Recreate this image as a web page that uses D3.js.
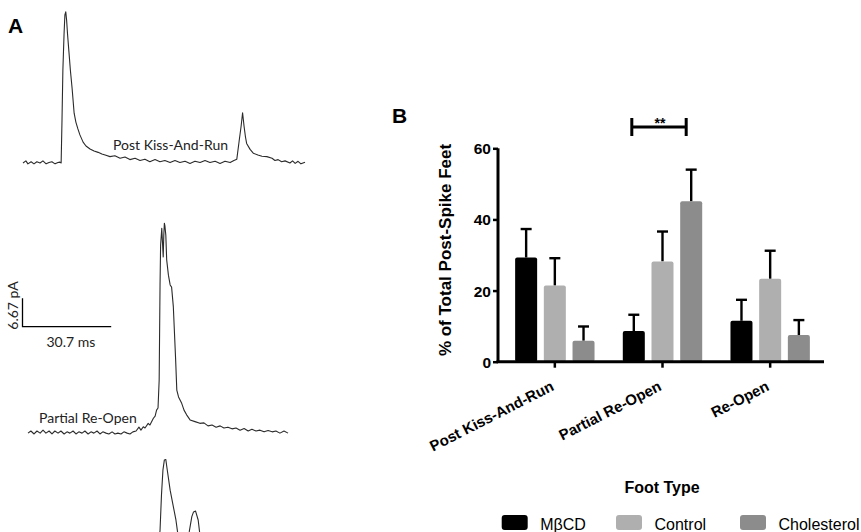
<!DOCTYPE html>
<html>
<head>
<meta charset="utf-8">
<script src="https://cdn.jsdelivr.net/npm/d3@7"></script>
<style>
  body { margin: 0; background: #fff; }
  svg { display: block; }
  .trace { fill: none; stroke: #2b2b2b; stroke-width: 1.1; stroke-linejoin: round; }
  .trace-label { font-family: Lato, "Open Sans", sans-serif; font-size: 14px; fill: #222; }
  .panel { font-family: "Liberation Sans", Arial, sans-serif; font-weight: bold; font-size: 21px; }
  .bold { font-family: "Liberation Sans", Arial, sans-serif; font-weight: bold; }
  .legend-text { font-family: "Liberation Sans", Arial, sans-serif; font-size: 16px; }
</style>
</head>
<body>
<svg width="861" height="532"></svg>
<script>
//  panel B data: % of total post-spike feet, mean and SEM
var categories = ["Post Kiss-And-Run", "Partial Re-Open", "Re-Open"];
var series = ["MβCD", "Control", "Cholesterol"];
var meanMBCD = [29.3, 8.6, 11.5];
var meanControl = [21.4, 28.2, 23.3];
var meanChol = [5.9, 45.1, 7.5];
var semMBCD = [8.0, 4.6, 5.9];
var semControl = [7.7, 8.4, 7.9];
var semChol = [4.0, 8.9, 4.2];
var yTicks = [0, 20, 40, 60];
var colors = ["#000000", "#afafaf", "#8c8c8c"];

//  panel A traces: [time ms, current pA]
var traceKissRun = [[0,0],[1.0,0.5],[1.7,-0.2],[2.8,0.3],[3.8,-0.2],[4.8,0.3],[5.9,0],[6.9,0.5],[8.0,-0.2],[9.0,0.1],[10.0,0.3],[11.1,-0.2],[12.1,0.1],[12.8,0.2],
  [13.2,0],[13.5,10.1],[13.8,21.8],[14.2,30.1],[14.5,34.8],[14.8,35.5],[15.1,33.5],[15.4,30.4],[15.9,26.1],[16.4,21.8],[17.0,17.5],[17.7,11.7],[18.3,9.6],[19.0,8.0],[19.7,6.6],
  [20.8,4.9],[21.8,4.0],[23.2,3.3],[24.6,2.8],[26.0,2.5],[27.3,2.1],[28.7,1.8],[30.1,1.5],[31.8,1.7],[33.6,1.1],[35.3,1.4],[37.0,0.8],[38.8,1.1],[40.5,0.6],[42.2,0.9],
  [43.9,0.3],[45.7,0.8],[47.4,0.3],[49.1,0.6],[50.9,0.1],[52.6,0.6],[54.3,0.1],[56.1,0.4],[57.8,-0.1],[59.5,0.4],[61.3,0.1],[63.0,0.6],[64.7,0.1],[66.5,0.4],[68.2,-0.1],
  [69.9,0.4],[71.7,0.1],[73.0,0.6],[74.0,0.9],[74.8,5.1],[75.5,8.7],[76.0,11.8],[76.5,8.7],[77.0,6.1],[77.4,4.6],[78.6,3.2],[79.7,2.3],[81.3,1.9],[82.7,1.6],[84.4,1.5],
  [86.2,1.1],[87.2,0.6],[88.3,0.8],[89.5,0.3],[90.7,0.5],[92.4,0],[93.3,0.5],[94.2,-0.1],[95.2,0.4],[96.2,-0.2],[97.6,0.2]];

var tracePartial = [[0,-0.1],[1.0,0.4],[2.1,-0.3],[3.1,0.4],[4.2,-0.1],[5.2,0.6],[6.2,-0.1],[7.3,0.4],[8.3,-0.3],[9.3,0.4],[10.4,-0.1],[11.4,0.4],[12.5,-0.3],[13.5,0.2],
  [14.5,-0.1],[15.6,0.4],[16.6,-0.3],[17.6,0.2],[18.7,-0.1],[19.7,0.4],[20.8,-0.3],[21.8,0.2],[22.8,-0.1],[23.9,0.4],[24.9,-0.3],[25.9,0.2],[27.0,-0.1],[28.0,-0.3],[29.1,0.2],
  [30.1,-0.3],[31.1,-0.1],[32.2,-0.3],[33.2,0.2],[34.3,-0.1],[35.3,-0.3],[36.3,0.2],[37.4,0.4],[38.4,1.3],[39.1,0.6],[39.9,1.4],[40.5,1.1],[41.6,2.2],[42.2,1.8],[43.4,3.4],
  [44.0,3.9],[44.5,5.3],[45.0,5.8],[45.4,12.4],[45.7,34.7],[45.9,44.1],[46.3,48.0],[46.5,45.3],[46.8,41.3],[47.0,46.4],[47.2,49.2],[47.4,48.5],[47.7,46.4],[48.0,40.6],
  [48.6,37.0],[49.2,34.7],[49.7,34.2],[50.3,29.6],[51.1,17.1],[51.5,10.0],[52.1,8.4],[53.2,6.9],[54.0,5.3],[54.9,4.2],[56.1,3.0],[57.8,2.6],[59.5,2.2],[60.9,2.3],[62.3,1.6],
  [63.7,1.8],[65.1,1.3],[66.5,1.6],[67.8,1.1],[69.2,1.3],[70.6,0.9],[72.0,1.1],[73.4,0.6],[74.8,1.0],[76.2,0.4],[77.5,0.8],[78.9,0.4],[80.3,0.6],[81.7,0.2],[83.1,0.5],
  [84.5,0.2],[85.8,0.4],[87.2,-0.1],[88.6,0.4],[90.0,-0.1]];

var traceReOpen = [[42.2,0.5],[44.0,1.2],[45.2,2.8],[45.7,7.0],[46.2,15.3],[46.7,21.1],[47.2,23.5],[47.7,23.6],[48.1,21.6],[49.2,16.4],[50.2,12.9],[51.2,9.4],[51.9,5.9],
  [53.0,3.5],[54.3,4.7],[55.8,6.6],[56.7,10.2],[57.3,11.3],[58.0,11.5],[58.9,9.4],[59.5,5.9],[61.3,2.8]];

var svg = d3.select("svg");

//  ---------- panel A ----------
var tScale = d3.scaleLinear().domain([0, 30.7]).range([0, 88.7]);
var iScale = d3.scaleLinear().domain([0, 6.67]).range([0, -28.4]);
var traceLine = d3.line()
  .x(function(d) { return tScale(d[0]); })
  .y(function(d) { return iScale(d[1]); });

svg.append("text").attr("class", "panel").attr("x", 8).attr("y", 33).text("A");

var traces = [
  { data: traceKissRun, x: 23, y: 163 },
  { data: tracePartial, x: 28, y: 432.7 },
  { data: traceReOpen, x: 28, y: 560 }
];
traces.forEach(function(t) {
  svg.append("g")
    .attr("transform", "translate(" + t.x + "," + t.y + ")")
    .append("path")
    .attr("class", "trace")
    .attr("d", traceLine(t.data));
});

svg.append("text").attr("class", "trace-label").attr("x", 113).attr("y", 150).text("Post Kiss-And-Run");
svg.append("text").attr("class", "trace-label").attr("x", 39).attr("y", 422.7).text("Partial Re-Open");

//  scale bar
var sb = svg.append("g").attr("transform", "translate(22.5,326.7)");
sb.append("path")
  .attr("d", "M0," + iScale(6.67) + "V0H" + tScale(30.7))
  .attr("fill", "none").attr("stroke", "#000").attr("stroke-width", 1.3);
sb.append("text").attr("class", "trace-label")
  .attr("transform", "translate(-4.5," + (iScale(6.67) / 2 - 7) + ") rotate(-90)")
  .attr("text-anchor", "middle").text("6.67 pA");
sb.append("text").attr("class", "trace-label")
  .attr("x", tScale(30.7) / 2 + 4).attr("y", 20)
  .attr("text-anchor", "middle").text("30.7 ms");

//  ---------- panel B ----------
svg.append("text").attr("class", "panel").attr("x", 392).attr("y", 123.3).text("B");

var plotLeft = 498, plotRight = 824, plotBottom = 361.7, plotTop = 148.3;
var y = d3.scaleLinear().domain([0, 60]).range([plotBottom, plotTop]);
var x0 = d3.scaleBand().domain(categories).range([plotLeft + 3, plotRight]);
var x1 = d3.scaleBand().domain(series).range([-39.7, 39.7]).paddingInner(0.233);

var means = [meanMBCD, meanControl, meanChol];
var sems = [semMBCD, semControl, semChol];
var bars = [];
categories.forEach(function(c, ci) {
  series.forEach(function(s, si) {
    bars.push({ cat: c, ser: s, si: si, mean: means[si][ci], sem: sems[si][ci] });
  });
});
function cx(d) { return x0(d.cat) + x0.bandwidth() / 2; }

var gB = svg.append("g");

//  error bars (drawn first so bars cover the lower half)
var err = gB.selectAll(".err").data(bars).enter().append("g").attr("class", "err");
err.append("line")
  .attr("x1", function(d) { return cx(d) + x1(d.ser) + x1.bandwidth() / 2; })
  .attr("x2", function(d) { return cx(d) + x1(d.ser) + x1.bandwidth() / 2; })
  .attr("y1", function(d) { return y(d.mean); })
  .attr("y2", function(d) { return y(d.mean + d.sem); })
  .attr("stroke", "#000").attr("stroke-width", 2.4);
err.append("line")
  .attr("x1", function(d) { return cx(d) + x1(d.ser) + x1.bandwidth() / 2 - 5.5; })
  .attr("x2", function(d) { return cx(d) + x1(d.ser) + x1.bandwidth() / 2 + 5.5; })
  .attr("y1", function(d) { return y(d.mean + d.sem); })
  .attr("y2", function(d) { return y(d.mean + d.sem); })
  .attr("stroke", "#000").attr("stroke-width", 2.4);

gB.selectAll(".bar").data(bars).enter().append("rect")
  .attr("class", "bar")
  .attr("x", function(d) { return cx(d) + x1(d.ser); })
  .attr("y", function(d) { return y(d.mean); })
  .attr("width", x1.bandwidth())
  .attr("height", function(d) { return plotBottom - y(d.mean); })
  .attr("rx", 2)
  .attr("fill", function(d) { return colors[d.si]; });

//  axes
var yAxis = gB.append("g").attr("transform", "translate(" + plotLeft + ",0)")
  .call(d3.axisLeft(y).tickValues(yTicks).tickSize(5).tickPadding(2).tickFormat(d3.format("d")));
yAxis.select(".domain").attr("d", "M0," + plotTop + "V" + plotBottom).attr("stroke-width", 3);
yAxis.selectAll(".tick line").attr("stroke-width", 2.5);
yAxis.selectAll("text").attr("class", "bold").attr("font-size", 15.5).attr("fill", "#000").attr("dy", "0.35em");

var xAxis = gB.append("g").attr("transform", "translate(0," + plotBottom + ")")
  .call(d3.axisBottom(x0).tickSize(6).tickFormat(""));
xAxis.select(".domain").attr("d", "M" + (plotLeft - 1.5) + ",0H" + plotRight).attr("stroke-width", 3);
xAxis.selectAll(".tick line").attr("stroke-width", 2.5);

gB.selectAll(".xlab").data(categories).enter().append("text")
  .attr("class", "bold")
  .attr("font-size", 15)
  .attr("text-anchor", "end")
  .attr("transform", function(d) {
    return "translate(" + (x0(d) + x0.bandwidth() / 2) + "," + (plotBottom + 28) + ") rotate(-27)";
  })
  .text(function(d) { return d; });

gB.append("text").attr("class", "bold").attr("font-size", 17)
  .attr("text-anchor", "middle")
  .attr("transform", "translate(451," + ((plotTop + plotBottom) / 2 - 5) + ") rotate(-90)")
  .text("% of Total Post-Spike Feet");

//  significance bracket: MβCD vs Cholesterol, Partial Re-Open
var gc = x0("Partial Re-Open") + x0.bandwidth() / 2;
var bx1 = gc + x1("MβCD") + x1.bandwidth() / 2 - 2;
var bx2 = gc + x1("Cholesterol") + 6;
var by = y(66);
gB.append("path")
  .attr("d", "M" + bx1 + "," + (by - 9) + "V" + (by + 9) + "M" + bx1 + "," + by + "H" + bx2 +
    "M" + bx2 + "," + (by - 9) + "V" + (by + 9))
  .attr("fill", "none").attr("stroke", "#000").attr("stroke-width", 3);
gB.append("text").attr("class", "bold").attr("font-size", 14)
  .attr("text-anchor", "middle").attr("x", (bx1 + bx2) / 2 + 1).attr("y", by + 1)
  .text("**");

gB.append("text").attr("class", "bold").attr("font-size", 16)
  .attr("text-anchor", "middle").attr("x", 662).attr("y", 492.5)
  .text("Foot Type");

//  legend
var legX = [501.7, 616, 740];
var leg = gB.selectAll(".leg").data(series).enter().append("g")
  .attr("transform", function(d, i) { return "translate(" + legX[i] + ",515)"; });
leg.append("rect").attr("width", 26).attr("height", 15).attr("rx", 3)
  .attr("fill", function(d, i) { return colors[i]; });
leg.append("text").attr("class", "legend-text").attr("x", 38.5).attr("y", 15).text(function(d) { return d; });
</script>
</body>
</html>
